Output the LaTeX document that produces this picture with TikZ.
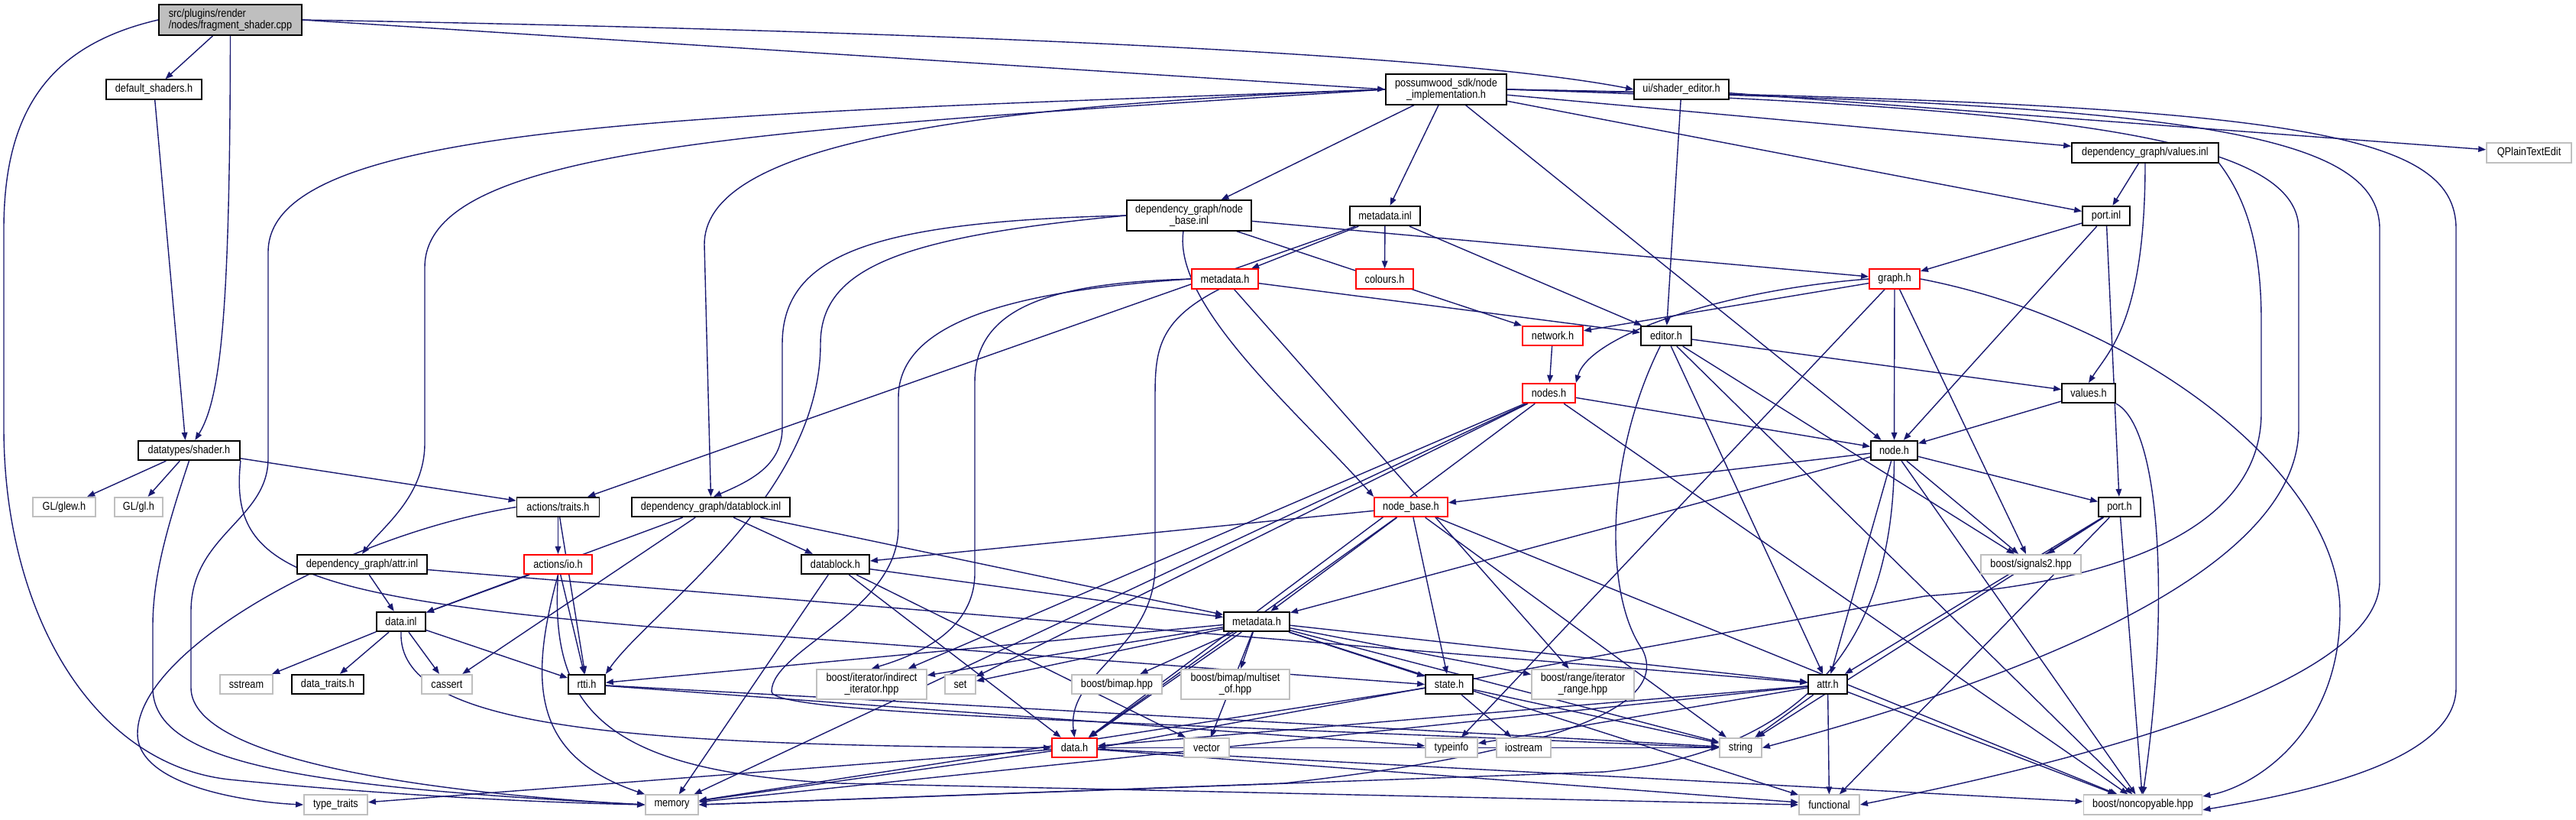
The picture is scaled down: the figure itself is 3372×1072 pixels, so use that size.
\documentclass[tikz,border=0pt]{standalone}
\usepackage{fontspec}
\setmainfont{Liberation Sans}[FakeStretch=0.86]
\usetikzlibrary{arrows.meta, backgrounds}
\definecolor{edgeblue}{HTML}{191970}
\definecolor{extgray}{HTML}{BFBFBF}
\newcommand\dxfont{\fontsize{7.4}{7.6}\selectfont}

\begin{document}
\begin{tikzpicture}[
    x=0.5pt, y=-0.5pt,
    box/.style={rectangle, draw=black, line width=0.9pt, fill=white,
                inner sep=0pt, minimum height=12.75pt, align=center, font=\dxfont},
    ext/.style={box, draw=extgray},
    trunc/.style={box, draw=red},
    root/.style={box, fill=extgray, align=left, minimum height=20pt},
    two/.style={minimum height=19.75pt},
    edge/.style={draw=edgeblue, line width=0.7pt, -{Triangle[length=5pt, width=3.8pt]}}
]
  \useasboundingbox (0,0) rectangle (3372,1072);

  % --- top rows ---
  \node[root, minimum width=93.5pt] (main) at (301.5,26) {src/plugins/render\\/nodes/fragment\_shader.cpp};
  \node[box, minimum width=62.5pt] (defsh) at (201.5,117) {default\_shaders.h};
  \node[box, two, minimum width=79pt] (nodeimpl) at (1893,117) {possumwood\_sdk/node\\\_implementation.h};
  \node[box, minimum width=62pt] (shed) at (2201,117) {ui/shader\_editor.h};
  \node[box, minimum width=96pt] (valinl) at (2808,200) {dependency\_graph/values.inl};
  \node[ext, minimum width=55.5pt] (qpte) at (3310.5,200) {QPlainTextEdit};
  \node[box, two, minimum width=81.5pt] (nbinl) at (1556.5,282) {dependency\_graph/node\\\_base.inl};
  \node[box, minimum width=46pt] (mdinl) at (1813,282.5) {metadata.inl};
  \node[box, minimum width=31pt] (portinl) at (2757,282.5) {port.inl};
  \node[trunc, minimum width=43.5pt] (sdkmd) at (1603.5,365) {metadata.h};
  \node[trunc, minimum width=37.5pt] (colours) at (1812.5,365) {colours.h};
  \node[trunc, minimum width=33pt] (graph) at (2480,365) {graph.h};
  \node[trunc, minimum width=39.5pt] (network) at (2032.5,439.5) {network.h};
  \node[box, minimum width=33pt] (editor) at (2181,439.5) {editor.h};
  \node[trunc, minimum width=34.5pt] (nodes) at (2027.5,514.5) {nodes.h};
  \node[box, minimum width=35pt] (values) at (2734,514.5) {values.h};

  % --- middle rows ---
  \node[box, minimum width=66.5pt] (shader) at (247.5,589.5) {datatypes/shader.h};
  \node[box, minimum width=30.5pt] (nodeh) at (2479.5,589.5) {node.h};
  \node[ext, minimum width=41pt] (glew) at (84,663.5) {GL/glew.h};
  \node[ext, minimum width=31.5pt] (gl) at (181.5,663.5) {GL/gl.h};
  \node[box, minimum width=54pt] (traits) at (730.5,663.5) {actions/traits.h};
  \node[box, minimum width=103.5pt] (dbinl) at (930.5,663.5) {dependency\_graph/datablock.inl};
  \node[trunc, minimum width=48pt] (nodebase) at (1847,663.5) {node\_base.h};
  \node[box, minimum width=27.5pt] (porth) at (2774.5,663.5) {port.h};
  \node[box, minimum width=85pt] (attrinl) at (474,738.5) {dependency\_graph/attr.inl};
  \node[trunc, minimum width=44.5pt] (io) at (730.5,738.5) {actions/io.h};
  \node[box, minimum width=44.5pt] (datablock) at (1093.5,738.5) {datablock.h};
  \node[ext, minimum width=65.5pt] (signals) at (2658.5,738.5) {boost/signals2.hpp};
  \node[box, minimum width=32pt] (datainl) at (525,813.5) {data.inl};
  \node[box, minimum width=43pt] (dgmd) at (1645,813.5) {metadata.h};

  % --- bottom rows ---
  \node[ext, minimum width=34.5pt] (sstream) at (322.5,895.5) {sstream};
  \node[box, minimum width=47pt] (dtraits) at (429,895.5) {data\_traits.h};
  \node[ext, minimum width=33pt] (cassert) at (585,895.5) {cassert};
  \node[box, minimum width=24pt] (rtti) at (768,895.5) {rtti.h};
  \node[ext, two, minimum width=72pt] (indirect) at (1141,895.5) {boost/iterator/indirect\\\_iterator.hpp};
  \node[ext, minimum width=20pt] (set) at (1257,895.5) {set};
  \node[ext, minimum width=59pt] (bimap) at (1462,895.5) {boost/bimap.hpp};
  \node[ext, two, minimum width=71pt] (multiset) at (1617,895.5) {boost/bimap/multiset\\\_of.hpp};
  \node[box, minimum width=31pt] (state) at (1897,895.5) {state.h};
  \node[ext, two, minimum width=67pt] (range) at (2072,895.5) {boost/range/iterator\\\_range.hpp};
  \node[box, minimum width=25.5pt] (attrh) at (2392.5,895.5) {attr.h};
  \node[trunc, minimum width=29.5pt] (datah) at (1406.5,978.5) {data.h};
  \node[ext, minimum width=29.5pt] (vector) at (1579.5,978.5) {vector};
  \node[ext, minimum width=34pt] (typeinfo) at (1900,978.5) {typeinfo};
  \node[ext, minimum width=35.5pt] (iostream) at (1994.5,978.5) {iostream};
  \node[ext, minimum width=27.5pt] (string) at (2278.5,978.5) {string};
  \node[ext, minimum width=41.5pt] (typetraits) at (439.5,1053) {type\_traits};
  \node[ext, minimum width=34.5pt] (memory) at (879.5,1053) {memory};
  \node[ext, minimum width=39.5pt] (functional) at (2394.5,1053) {functional};
  \node[ext, minimum width=77.5pt] (noncopy) at (2805,1053) {boost/noncopyable.hpp};

  \begin{scope}[on background layer]
  \fill[white] (0,0) rectangle (3372,1072);

  % fragment_shader.cpp
  \draw[edge] (main) -- (defsh);
  \draw[edge] (main.south) .. controls (301,400) and (290,520) .. (shader.60);
  \draw[edge] (main.west) .. controls (60,60) and (5,150) .. (5,300) -- (5,560) .. controls (5,800) and (120,1000) .. (300,1020) .. controls (500,1040) and (700,1050) .. (memory.west);
  \draw[edge] (main.east) -- (nodeimpl.west);
  \draw[edge] (main.east) .. controls (1200,40) and (1900,70) .. (shed.west);
  \draw[edge] (defsh) -- (shader.110);

  % datatypes/shader.h
  \draw[edge] (shader) -- (glew);
  \draw[edge] (shader) -- (gl);
  \draw[edge] (shader) -- (traits);
  \draw[edge] (shader.south) .. controls (215,700) and (200,760) .. (200,820) -- (200,900) .. controls (200,1000) and (400,1030) .. (memory.west);
  \draw[edge] (shader.south east) .. controls (300,740) and (380,780) .. (850,820) -- (state.west);

  % node_implementation.h
  \draw[edge] (nodeimpl) -- (nbinl);
  \draw[edge] (nodeimpl) -- (mdinl);
  \draw[edge] (nodeimpl) -- (valinl);
  \draw[edge] (nodeimpl) -- (portinl);
  \draw[edge] (nodeimpl) -- (nodeh);
  \draw[edge] (nodeimpl.west) .. controls (1000,170) and (556,190) .. (556,350) -- (556,580) .. controls (556,650) and (500,690) .. (attrinl.north);
  \draw[edge] (nodeimpl.west) .. controls (1200,140) and (922,200) .. (922,320) -- (dbinl.north);
  \draw[edge] (nodeimpl.west) .. controls (900,150) and (351,160) .. (351,330) -- (351,600) .. controls (351,680) and (250,700) .. (250,800) -- (250,900) .. controls (250,1000) and (600,1040) .. (memory.west);
  \draw[edge] (nodeimpl.east) .. controls (2700,140) and (3009,180) .. (3009,300) -- (3009,560) .. controls (3009,760) and (2600,900) .. (string.east);
  \draw[edge] (nodeimpl.east) .. controls (2850,135) and (3115,170) .. (3115,300) -- (3115,760) .. controls (3115,900) and (2700,1000) .. (functional.east);
  \draw[edge] (nodeimpl.east) .. controls (3000,135) and (3215,170) .. (3215,300) -- (3215,900) .. controls (3215,1000) and (3000,1040) .. (noncopy.-5);

  % ui/shader_editor.h
  \draw[edge] (shed) -- (qpte);
  \draw[edge] (shed) -- (editor);

  % node_base.inl
  \draw[edge] (nbinl.west) .. controls (1150,290) and (1024,330) .. (1024,450) -- (1024,560) .. controls (1024,610) and (980,630) .. (dbinl.75);
  \draw[edge] (nbinl) -- (graph);
  \draw[edge] (nbinl) -- (network);
  \draw[edge] (nbinl.250) .. controls (1535,400) and (1700,540) .. (nodebase.north west);
  \draw[edge] (nbinl.west) .. controls (1180,310) and (1074,350) .. (1074,450) .. controls (1074,650) and (850,800) .. (rtti.north east);

  % metadata.inl
  \draw[edge] (mdinl) -- (colours);
  \draw[edge] (mdinl) -- (sdkmd);
  \draw[edge] (mdinl) -- (editor);
  \draw[edge] (mdinl) -- (traits);

  % values.inl, port.inl
  \draw[edge] (valinl) -- (portinl);
  \draw[edge] (valinl.south) .. controls (2808,420) and (2760,460) .. (values.north);
  \draw[edge] (valinl.south east) .. controls (2940,260) and (2960,320) .. (2960,420) -- (2960,540) .. controls (2960,680) and (2800,760) .. (2520,780) -- (datah.east);
  \draw[edge] (portinl) -- (graph);
  \draw[edge] (portinl) -- (nodeh);
  \draw[edge] (portinl) -- (porth);

  % possumwood_sdk/metadata.h
  \draw[edge] (sdkmd) -- (editor);
  \draw[edge] (sdkmd) -- (range);
  \draw[edge] (sdkmd.west) .. controls (1380,370) and (1276,400) .. (1276,500) -- (1276,750) .. controls (1276,830) and (1190,860) .. (indirect.north);
  \draw[edge] (sdkmd.west) .. controls (1330,380) and (1176,420) .. (1176,520) -- (1176,690) .. controls (1176,800) and (1010,850) .. (1010,905) .. controls (1010,935) and (1500,945) .. (string.west);
  \draw[edge] (sdkmd.240) .. controls (1515,420) and (1512,460) .. (1512,520) -- (1512,740) .. controls (1512,850) and (1395,880) .. (datah.north);

  % graph.h, network.h, editor.h, nodes.h, values.h
  \draw[edge] (graph) -- (network);
  \draw[edge] (graph.west) .. controls (2250,380) and (2080,440) .. (nodes.north east);
  \draw[edge] (graph) -- (nodeh);
  \draw[edge] (graph) -- (signals);
  \draw[edge] (graph) -- (typeinfo);
  \draw[edge] (graph.east) .. controls (2800,420) and (3063,620) .. (3063,800) .. controls (3063,960) and (2950,1030) .. (noncopy.8);
  \draw[edge] (network) -- (nodes);
  \draw[edge] (editor) -- (values);
  \draw[edge] (editor) -- (attrh);
  \draw[edge] (editor) -- (signals);
  \draw[edge] (editor) -- (noncopy);
  \draw[edge] (editor.240) .. controls (2100,600) and (2100,780) .. (2150,850) .. controls (2200,950) and (1900,1000) .. (1680,1025) -- (memory.east);
  \draw[edge] (nodes) -- (nodeh);
  \draw[edge] (nodes) -- (set);
  \draw[edge] (nodes) -- (indirect);
  \draw[edge] (nodes) -- (datah);
  \draw[edge] (nodes) -- (memory);
  \draw[edge] (nodes) -- (noncopy);
  \draw[edge] (values) -- (nodeh);
  \draw[edge] (values.south east) .. controls (2830,560) and (2840,800) .. (noncopy.north);

  % node.h, port.h, node_base.h
  \draw[edge] (nodeh) -- (nodebase);
  \draw[edge] (nodeh) -- (dgmd);
  \draw[edge] (nodeh) -- (porth);
  \draw[edge] (nodeh) -- (attrh);
  \draw[edge] (nodeh) -- (signals);
  \draw[edge] (nodeh) -- (noncopy);
  \draw[edge] (nodeh.south) .. controls (2478,800) and (2400,980) .. (2100,1010) -- (memory.east);
  \draw[edge] (porth) -- (signals);
  \draw[edge] (porth) -- (attrh);
  \draw[edge] (porth) -- (noncopy);
  \draw[edge] (porth) -- (string);
  \draw[edge] (porth) -- (functional);
  \draw[edge] (nodebase) -- (datablock);
  \draw[edge] (nodebase) -- (dgmd);
  \draw[edge] (nodebase) -- (datah);
  \draw[edge] (nodebase) -- (state);
  \draw[edge] (nodebase) -- (string);
  \draw[edge] (nodebase) -- (noncopy);

  % actions, datablock.inl, attr.inl, data.inl
  \draw[edge] (traits) -- (io);
  \draw[edge] (traits) -- (rtti);
  \draw[edge] (traits.west) .. controls (450,700) and (180,850) .. (180,960) .. controls (180,1030) and (330,1050) .. (typetraits.west);
  \draw[edge] (dbinl) -- (datablock);
  \draw[edge] (dbinl) -- (dgmd);
  \draw[edge] (dbinl) -- (datainl);
  \draw[edge] (dbinl) -- (cassert);
  \draw[edge] (attrinl) -- (datainl);
  \draw[edge] (attrinl) -- (attrh);
  \draw[edge] (io) -- (datainl);
  \draw[edge] (io) -- (rtti);
  \draw[edge] (io.south) .. controls (690,900) and (700,990) .. (memory.north west);
  \draw[edge] (io.south) .. controls (720,920) and (780,1010) .. (1100,1025) -- (functional.west);
  \draw[edge] (datainl) -- (sstream);
  \draw[edge] (datainl) -- (dtraits);
  \draw[edge] (datainl) -- (cassert);
  \draw[edge] (datainl) -- (rtti);
  \draw[edge] (datainl.south) .. controls (520,950) and (800,975) .. (datah.west);
  \draw[edge] (rtti) -- (typeinfo);
  \draw[edge] (rtti) -- (string);

  % datablock.h, dependency_graph/metadata.h
  \draw[edge] (datablock) -- (dgmd);
  \draw[edge] (datablock) -- (memory);
  \draw[edge] (datablock) -- (datah);
  \draw[edge] (datablock) -- (vector);
  \draw[edge] (dgmd) -- (indirect);
  \draw[edge] (dgmd) -- (set);
  \draw[edge] (dgmd) -- (bimap);
  \draw[edge] (dgmd) -- (multiset);
  \draw[edge] (dgmd) -- (datah);
  \draw[edge] (dgmd) -- (vector);
  \draw[edge] (dgmd) -- (rtti);
  \draw[edge] (dgmd) -- (range);
  \draw[edge] (dgmd) -- (attrh);
  \draw[edge] (dgmd) -- (state);
  \draw[edge] (dgmd) -- (string);
  \draw[edge] (dgmd) -- (functional);

  % data.h, attr.h, state.h
  \draw[edge] (datah) -- (typetraits);
  \draw[edge] (datah) -- (memory);
  \draw[edge] (datah) -- (functional);
  \draw[edge] (datah) -- (noncopy);
  \draw[edge] (datah) -- (string);
  \draw[edge] (attrh) -- (typeinfo);
  \draw[edge] (attrh) -- (string);
  \draw[edge] (attrh) -- (memory);
  \draw[edge] (attrh) -- (functional);
  \draw[edge] (attrh) -- (noncopy);
  \draw[edge] (attrh) -- (datah);
  \draw[edge] (state) -- (iostream);
  \draw[edge] (state) -- (string);
  \draw[edge] (state) -- (memory);
  \end{scope}

\end{tikzpicture}
\end{document}
